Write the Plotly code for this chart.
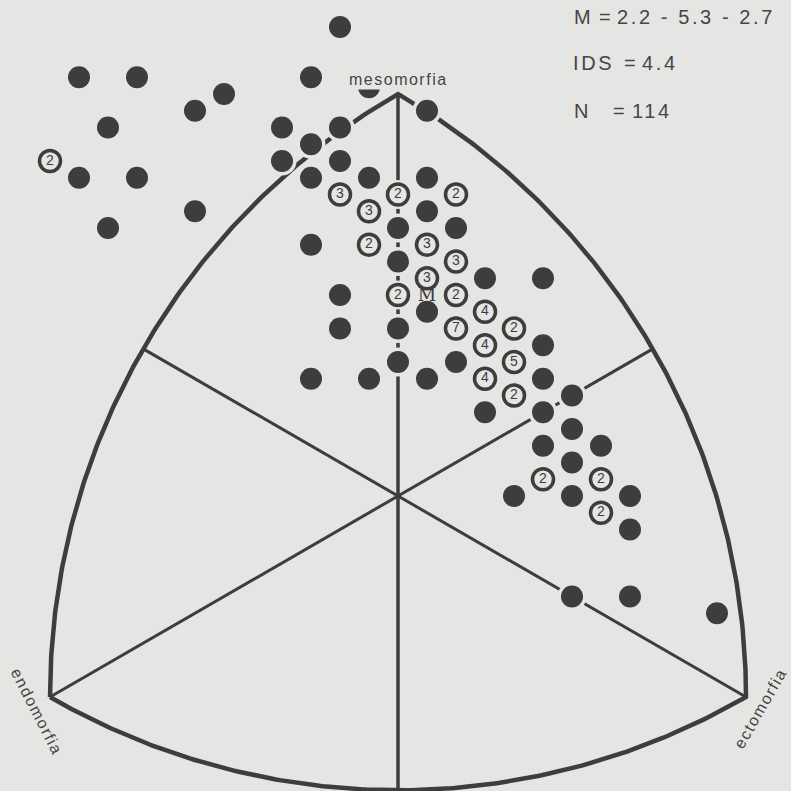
import numpy as np
import plotly.graph_objects as go

# Somatochart coordinates: X = ecto - endo, Y = 2*meso - (endo + ecto)
# Single subjects (filled dots)
dot_x = [-1, -5.5, -4.5, -1.5, -3, -3.5, -5, -2, -1, -1.5, -5.5, -4.5, -2, -1,
         -1.5, -3.5, -5, -1.5, -0.5, 0.5, -0.5, 0.5, 0.5, 0, 1, 0, 1.5, 2.5,
         -1, 0.5, -1, 0, 2.5, 1, 0, -1.5, -0.5, 0.5, 2.5, 3, 1.5, 2.5, 3, 2.5,
         3.5, 3, 2, 3, 4, 4, 3, 4, 5.5]
dot_y = [14, 12.5, 12.5, 12.5, 12, 11.5, 11, 11, 11, 10.5, 9.5, 9.5, 10, 10,
         9.5, 8.5, 8, 7.5, 9.5, 11.5, 12.2, 9.5, 8.5, 8, 8, 7, 6.5, 6.5,
         6, 5.5, 5, 5, 4.5, 4, 4, 3.5, 3.5, 3.5, 3.5, 3, 2.5, 2.5, 2, 1.5,
         1.5, 1, 0, 0, 0, -1, -3, -3, -3.5]

# Repeated somatotypes (circled counts)
ring_x = [-6, -1, -0.5, -0.5, 0, 1, 0.5, 1, 0.5, 0, 1, 1.5, 1, 2, 1.5, 2,
          1.5, 2, 2.5, 3.5, 3.5]
ring_y = [10, 9, 8.5, 7.5, 9, 9, 7.5, 7, 6.5, 6, 6, 5.5, 5, 5, 4.5, 4,
          3.5, 3, 0.5, 0.5, -0.5]
ring_n = [2, 3, 3, 2, 2, 2, 3, 3, 3, 2, 2, 4, 7, 2, 4, 5, 4, 2, 2, 2, 2]

# Mean somatotype (endo, meso, ecto)
mean_rating = (2.2, 5.3, 2.7)

# Summary block: (key, key left px, "=" left px, value, value left px)
stats_rows = [
    ("M", 572, 597, "2.2 - 5.3 - 2.7", 615),
    ("IDS", 571, 622, "4.4", 640),
    ("N", 572, 611, "114", 630),
]
stats_y = [17, 63, 111]

axis_labels = ["mesomorfia", "endomorfia", "ectomorfia"]

BG = "#e5e5e3"
INK = "#3d3d3d"
TXT = "#454545"
FONT = "Liberation Sans, Arial, sans-serif"
SQ3 = np.sqrt(3.0)

# Triangle vertices (X, Y): endo, ecto, meso
V_endo = np.array([-6.0, -6.0])
V_ecto = np.array([6.0, -6.0])
V_meso = np.array([0.0, 12.0])


def to_iso(p):
    return np.array([p[0], p[1] / SQ3])


def from_iso(q):
    return np.array([q[0], q[1] * SQ3])


def arc(center, a, b, n=200):
    c, pa, pb = to_iso(center), to_iso(a), to_iso(b)
    r = np.linalg.norm(pa - c)
    t0 = np.arctan2(*(pa - c)[::-1])
    t1 = np.arctan2(*(pb - c)[::-1])
    if t1 - t0 > np.pi:
        t1 -= 2 * np.pi
    if t0 - t1 > np.pi:
        t1 += 2 * np.pi
    t = np.linspace(t0, t1, n)
    xs = c[0] + r * np.cos(t)
    ys = (c[1] + r * np.sin(t)) * SQ3
    return list(xs), list(ys)


def opposite(v):
    q = to_iso(v)
    side = np.linalg.norm(to_iso(V_ecto) - to_iso(V_endo))
    u = -q / np.linalg.norm(q)
    return from_iso(q + side * u)


def spaced(s, px):
    return f'<span style="letter-spacing:{px}px">{s}</span>'


fig = go.Figure()

# Reuleaux outline
outline_x, outline_y = [], []
for cen, a, b in [(V_ecto, V_endo, V_meso), (V_endo, V_meso, V_ecto),
                  (V_meso, V_ecto, V_endo)]:
    xs, ys = arc(cen, a, b)
    outline_x += xs
    outline_y += ys
fig.add_trace(go.Scatter(x=outline_x, y=outline_y, mode="lines",
                         line=dict(color=INK, width=4.5), hoverinfo="skip"))

# Axes through the centre
for v in [V_endo, V_ecto]:
    o = opposite(v)
    fig.add_trace(go.Scatter(x=[v[0], o[0]], y=[v[1], o[1]], mode="lines",
                             line=dict(color=INK, width=3), hoverinfo="skip"))
o = opposite(V_meso)
fig.add_trace(go.Scatter(x=[V_meso[0], o[0]], y=[V_meso[1], o[1]], mode="lines",
                         line=dict(color=INK, width=3.5), hoverinfo="skip"))

# Halo around every subject mark
fig.add_trace(go.Scatter(x=dot_x + ring_x, y=dot_y + ring_y, mode="markers",
                         marker=dict(size=29, color=BG, line=dict(width=0)),
                         hoverinfo="skip"))

# Single subjects
fig.add_trace(go.Scatter(x=dot_x, y=dot_y, mode="markers",
                         marker=dict(size=22, color=INK, line=dict(width=0)),
                         hoverinfo="skip"))

# Repeated somatotypes
fig.add_trace(go.Scatter(x=ring_x, y=ring_y, mode="markers+text",
                         text=[str(n) for n in ring_n], textposition="middle center",
                         textfont=dict(family=FONT, size=14, color=INK),
                         marker=dict(size=21, color=BG, line=dict(width=3.5, color=INK)),
                         hoverinfo="skip"))

# Mean somatotype
m_endo, m_meso, m_ecto = mean_rating
mx = m_ecto - m_endo
my = 2 * m_meso - (m_endo + m_ecto)
fig.add_trace(go.Scatter(x=[mx], y=[my], mode="text", text=["M"],
                         textposition="top center",
                         textfont=dict(family="DejaVu Serif, serif", size=18, color=INK),
                         hoverinfo="skip"))

label_font = dict(family=FONT, size=16, color=TXT)
annotations = [
    dict(x=0.0, y=12.0, xref="x", yref="y", text=spaced(axis_labels[0], 1.5),
         showarrow=False, yshift=15, font=label_font, bgcolor=BG, borderpad=1),
    dict(x=V_endo[0], y=V_endo[1], xref="x", yref="y", text=spaced(axis_labels[1], 1.5),
         showarrow=False, textangle=63, xshift=-13, yshift=-14, font=label_font),
    dict(x=V_ecto[0], y=V_ecto[1], xref="x", yref="y", text=spaced(axis_labels[2], 1.5),
         showarrow=False, textangle=-60, xshift=14, yshift=-11, font=label_font),
]
stat_font = dict(family=FONT, size=20, color=TXT)
for (key, kx, ex, val, vx), yy in zip(stats_rows, stats_y):
    for piece, x0 in [(key, kx), ("=", ex), (val, vx)]:
        annotations.append(dict(x=x0 / 791, y=1 - yy / 791, xref="paper", yref="paper",
                                text=spaced(piece, 2.6), showarrow=False,
                                xanchor="left", yanchor="middle", font=stat_font))

fig.update_layout(
    width=791, height=791,
    margin=dict(l=0, r=0, t=0, b=0),
    paper_bgcolor=BG, plot_bgcolor=BG,
    showlegend=False,
    xaxis=dict(range=[-398 / 58, (791 - 398) / 58], visible=False, fixedrange=True),
    yaxis=dict(range=[(496 - 791) / 33.5, 496 / 33.5], visible=False, fixedrange=True),
    annotations=annotations,
)

fig.write_html("out.html")
